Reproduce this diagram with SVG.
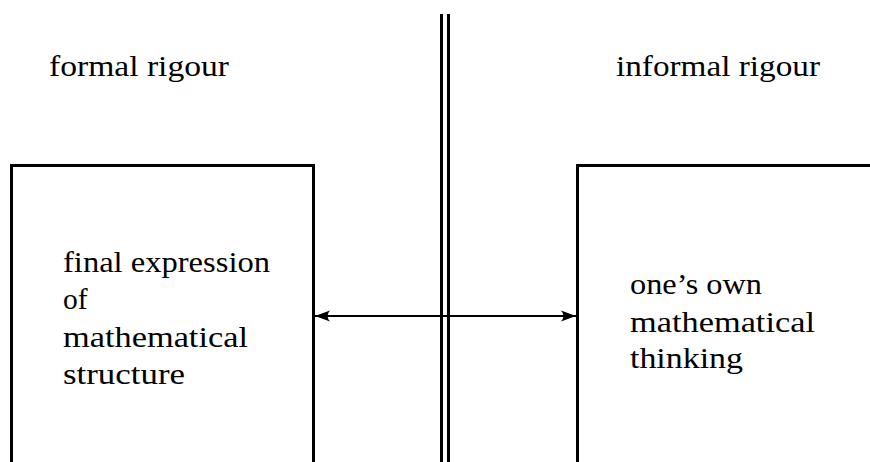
<svg xmlns="http://www.w3.org/2000/svg" width="870" height="462" viewBox="0 0 870 462">
<style>
  .edge { fill: none; stroke: #000; stroke-width: 3; }
  .lbl { font-family: "Liberation Serif", "Times New Roman", serif; font-size: 29.5px; fill: #000; }
  .conn { stroke: #000; stroke-width: 2.2; fill: none; }
</style>
<defs>
  <marker id="ah" markerWidth="16" markerHeight="12" viewBox="0 0 16 12" refX="15" refY="6" orient="auto-start-reverse" markerUnits="userSpaceOnUse">
    <path d="M0,0.5 Q5,6 0,11.5 L15,6 Z" fill="#000"/>
  </marker>
</defs>
<rect width="870" height="462" fill="#fff"/>
<g id="divider">
  <line class="edge" x1="441.5" y1="14" x2="441.5" y2="462"/>
  <line class="edge" x1="448.5" y1="14" x2="448.5" y2="462"/>
</g>
<g id="formal-label">
  <text class="lbl" x="49" y="76" textLength="180" lengthAdjust="spacingAndGlyphs">formal rigour</text>
</g>
<g id="informal-label">
  <text class="lbl" x="616" y="76" textLength="204" lengthAdjust="spacingAndGlyphs">informal rigour</text>
</g>
<g id="formal-box">
  <path class="edge" d="M11.5,462 V165.5 H313.5 V462"/>
  <text class="lbl" x="63" y="272" textLength="207" lengthAdjust="spacingAndGlyphs">final expression</text>
  <text class="lbl" x="63" y="309">of</text>
  <text class="lbl" x="63" y="346.5" textLength="185" lengthAdjust="spacingAndGlyphs">mathematical</text>
  <text class="lbl" x="63" y="383.5" textLength="122" lengthAdjust="spacingAndGlyphs">structure</text>
</g>
<g id="informal-box">
  <path class="edge" d="M577.5,462 V165.5 H870"/>
  <text class="lbl" x="630" y="294" textLength="132" lengthAdjust="spacingAndGlyphs">one’s own</text>
  <text class="lbl" x="630" y="331.5" textLength="185" lengthAdjust="spacingAndGlyphs">mathematical</text>
  <text class="lbl" x="630" y="368" textLength="113" lengthAdjust="spacingAndGlyphs">thinking</text>
</g>
<g id="connectors">
  <line class="conn" x1="315" y1="316" x2="576" y2="316" marker-start="url(#ah)" marker-end="url(#ah)"/>
</g>
</svg>
